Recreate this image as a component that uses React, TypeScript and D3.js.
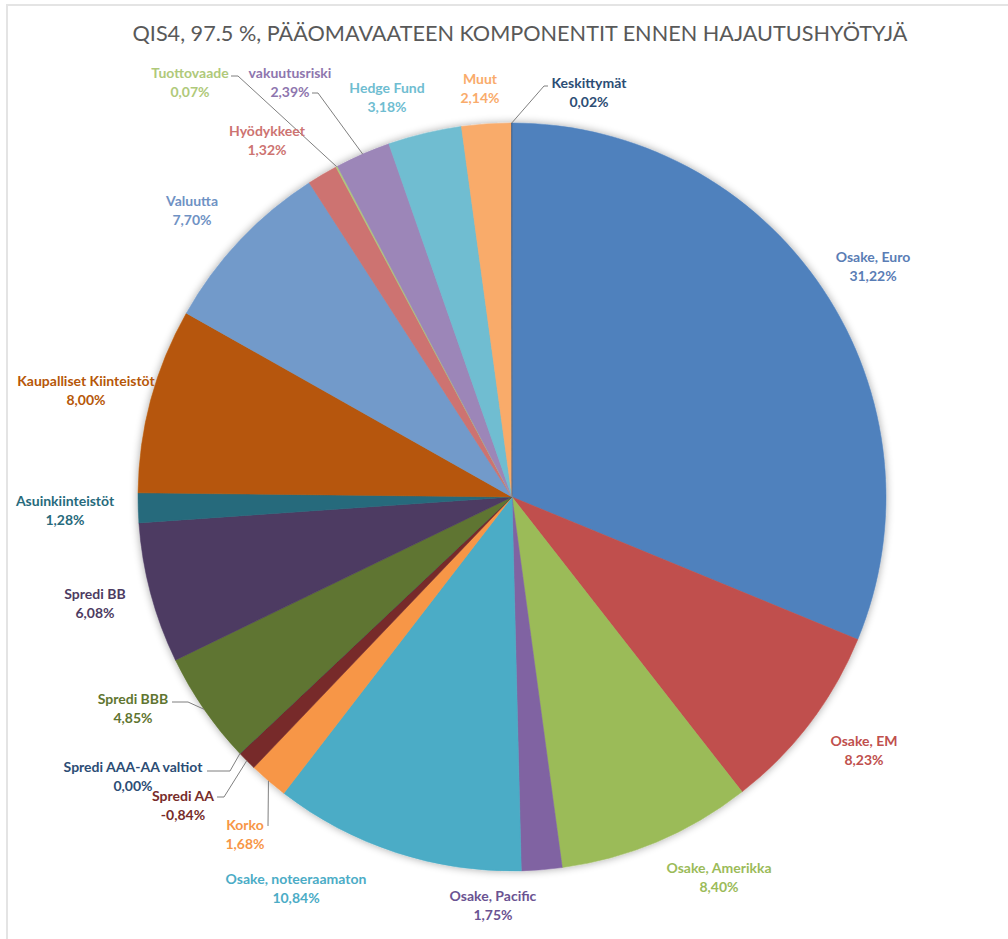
import React from "react";
import * as d3 from "d3";

const TITLE = "QIS4, 97.5 %, PÄÄOMAVAATEEN KOMPONENTIT ENNEN HAJAUTUSHYÖTYJÄ";

const categories = [
  "Osake, Euro",
  "Osake, EM",
  "Osake, Amerikka",
  "Osake, Pacific",
  "Osake, noteeraamaton",
  "Korko",
  "Spredi AA",
  "Spredi AAA-AA valtiot",
  "Spredi BBB",
  "Spredi BB",
  "Asuinkiinteistöt",
  "Kaupalliset Kiinteistöt",
  "Valuutta",
  "Hyödykkeet",
  "Tuottovaade",
  "vakuutusriski",
  "Hedge Fund",
  "Muut",
  "Keskittymät",
];

const values = [
  31.22, 8.23, 8.4, 1.75, 10.84, 1.68, -0.84, 0.0, 4.85, 6.08, 1.28, 8.0, 7.7,
  1.32, 0.07, 2.39, 3.18, 2.14, 0.02,
];

const sliceColors = [
  "#4F81BD", "#C0504D", "#9BBB59", "#8064A2", "#4BACC6", "#F79646",
  "#772C2A", "#2C4D75", "#5F7530", "#4D3B62", "#276A7C", "#B65708",
  "#729ACA", "#CD7371", "#AFC97A", "#9C86B8", "#6FBDD1", "#F9AB6B",
  "#3A5F8B",
];

const labelColors = [
  "#5A7DB5", "#C0504D", "#9BBB59", "#6A5392", "#4BACC6", "#F79646",
  "#772C2A", "#2C4D75", "#5F7530", "#4D3B62", "#276A7C", "#B65708",
  "#6F92C4", "#CD7371", "#AFC97A", "#8E76AE", "#6FBDD1", "#F9AB6B",
  "#2C4D75",
];

// label layout (center x, first-line y)
const labelPos: [number, number][] = [
  [873, 258], [864, 742], [719, 869], [493, 897], [296, 880], [245, 826],
  [183, 797], [133, 768], [133, 700], [95, 595], [65, 502], [86, 382],
  [192, 202], [267, 132], [190, 74], [290, 74], [387, 89], [480, 80],
  [589, 84],
];

// leader lines: index -> [startX, startY, elbowX]
const leaders: Record<number, [number, number, number]> = {
  18: [548, 86, 544],
  14: [231, 76, 238],
  15: [312, 93, 318],
  8: [172, 702, 188],
  7: [207, 771, 230],
  6: [217, 797, 224],
  5: [268, 826, 268],
};

const W = 1008;
const H = 939;
const CX = 512;
const CY = 497;
const R = 374;

const fmt = (v: number) =>
  d3.format(".2f")(v).replace("−", "-").replace(".", ",") + "%";

export default function App() {
  const pie = d3
    .pie<number>()
    .sort(null)
    .value((d) => Math.abs(d))
    .startAngle(0)
    .endAngle(2 * Math.PI);
  const arcs = pie(values);
  const arcGen = d3.arc<d3.PieArcDatum<number>>().innerRadius(0).outerRadius(R);

  const edgePoint = (a: d3.PieArcDatum<number>) => {
    const m = (a.startAngle + a.endAngle) / 2;
    return [CX + R * Math.sin(m), CY - R * Math.cos(m)];
  };

  return (
    <svg
      width={W}
      height={H}
      style={{ position: "absolute", left: 0, top: 0, background: "#fff" }}
      fontFamily="Lato, 'Open Sans', sans-serif"
    >
      <defs>
        <filter id="glow" x="-10%" y="-10%" width="120%" height="120%">
          <feGaussianBlur in="SourceAlpha" stdDeviation="4" />
          <feComponentTransfer>
            <feFuncA type="linear" slope="0.35" />
          </feComponentTransfer>
          <feMerge>
            <feMergeNode />
            <feMergeNode in="SourceGraphic" />
          </feMerge>
        </filter>
      </defs>
      <rect x={0} y={0} width={W} height={H} fill="#fff" />
      <line x1={6} y1={5} x2={W} y2={5} stroke="#e4e4e4" strokeWidth={2} />
      <line x1={7} y1={5} x2={7} y2={H} stroke="#e4e4e4" strokeWidth={2} />

      <text
        x={520}
        y={36}
        textAnchor="middle"
        dominantBaseline="middle"
        fontSize={21}
        fill="#595959"
        textLength={775}
        lengthAdjust="spacingAndGlyphs"
      >
        {TITLE}
      </text>

      <g transform={`translate(${CX},${CY})`} filter="url(#glow)">
        {arcs.map((a, i) => (
          <path key={i} d={arcGen(a) || ""} fill={sliceColors[i]} stroke={sliceColors[i]} strokeWidth={0.5} />
        ))}
      </g>

      {Object.entries(leaders).map(([k, v]) => {
        const i = Number(k);
        const [px, py] = edgePoint(arcs[i]);
        return (
          <path
            key={"l" + k}
            d={`M${v[0]},${v[1]} L${v[2]},${v[1]} L${px},${py}`}
            fill="none"
            stroke="#7f7f7f"
            strokeWidth={1}
          />
        );
      })}

      {categories.map((c, i) => (
        <text
          key={"t" + i}
          x={labelPos[i][0]}
          y={labelPos[i][1]}
          textAnchor="middle"
          dominantBaseline="middle"
          fontSize={14}
          fontWeight="bold"
          fill={labelColors[i]}
        >
          <tspan x={labelPos[i][0]}>{c}</tspan>
          <tspan x={labelPos[i][0]} dy={19}>
            {fmt(values[i])}
          </tspan>
        </text>
      ))}
    </svg>
  );
}
